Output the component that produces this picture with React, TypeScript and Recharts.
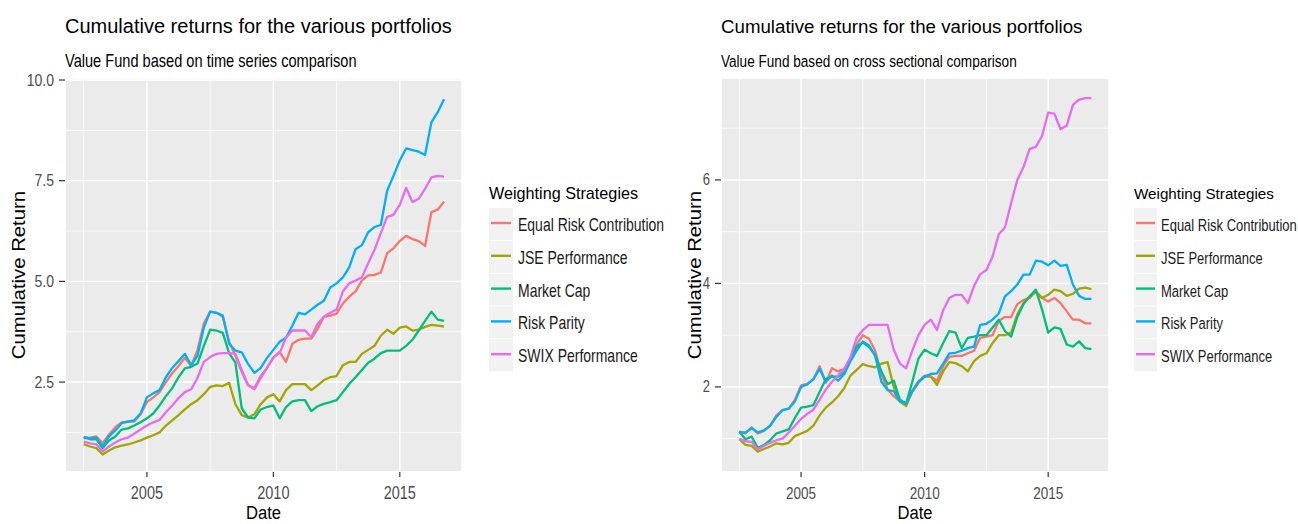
import React from 'react';
import { LineChart, Line, XAxis, YAxis, CartesianGrid, Legend } from 'recharts';

// quarterly observation dates (decimal years)
const dates = [
  2002.5, 2002.75,
  2003, 2003.25, 2003.5, 2003.75,
  2004, 2004.25, 2004.5, 2004.75,
  2005, 2005.25, 2005.5, 2005.75,
  2006, 2006.25, 2006.5, 2006.75,
  2007, 2007.25, 2007.5, 2007.75,
  2008, 2008.25, 2008.5, 2008.75,
  2009, 2009.25, 2009.5, 2009.75,
  2010, 2010.25, 2010.5, 2010.75,
  2011, 2011.25, 2011.5, 2011.75,
  2012, 2012.25, 2012.5, 2012.75,
  2013, 2013.25, 2013.5, 2013.75,
  2014, 2014.25, 2014.5, 2014.75,
  2015, 2015.25, 2015.5, 2015.75,
  2016, 2016.25, 2016.5, 2016.75,
];

// time series comparison
const tsErc = [
  1.10, 1.12,
  1.15, 0.98, 1.20, 1.38,
  1.50, 1.52, 1.52, 1.70,
  2.00, 2.12, 2.25, 2.50,
  2.72, 2.90, 3.10, 2.90,
  3.30, 3.95, 4.25, 4.22,
  4.12, 3.50, 3.15, 2.75,
  2.42, 2.35, 2.65, 2.85,
  3.10, 3.25, 3.00, 3.45,
  3.55, 3.58, 3.58, 3.82,
  4.12, 4.15, 4.20, 4.45,
  4.62, 4.75, 5.02, 5.15,
  5.16, 5.22, 5.70, 5.82,
  6.00, 6.13, 6.05, 6.00,
  5.88, 6.72, 6.78, 6.98,
];
const tsJse = [
  0.96, 0.90,
  0.86, 0.70, 0.80, 0.88,
  0.92, 0.95, 1.00, 1.05,
  1.12, 1.18, 1.25, 1.42,
  1.55, 1.68, 1.82, 1.95,
  2.05, 2.20, 2.38, 2.42,
  2.40, 2.48, 1.95, 1.68,
  1.62, 1.70, 1.95, 2.12,
  2.20, 2.02, 2.30, 2.45,
  2.45, 2.45, 2.30, 2.42,
  2.55, 2.62, 2.65, 2.92,
  3.00, 3.00, 3.20, 3.30,
  3.40, 3.65, 3.80, 3.70,
  3.85, 3.88, 3.78, 3.80,
  3.87, 3.92, 3.90, 3.88,
];
const tsMc = [
  1.13, 1.08,
  1.08, 0.86, 1.05, 1.15,
  1.32, 1.35, 1.42, 1.50,
  1.60, 1.72, 1.92, 2.15,
  2.35, 2.62, 2.84, 2.88,
  2.96, 3.40, 3.80, 3.78,
  3.72, 3.22, 2.98, 1.85,
  1.62, 1.60, 1.82, 1.88,
  1.92, 1.60, 1.88, 2.02,
  2.05, 2.05, 1.78, 1.90,
  1.96, 2.00, 2.05, 2.25,
  2.45, 2.62, 2.80, 2.98,
  3.08, 3.22, 3.28, 3.28,
  3.28, 3.40, 3.55, 3.78,
  4.02, 4.25, 4.05, 4.02,
];
const tsRp = [
  1.14, 1.10,
  1.12, 0.90, 1.15, 1.30,
  1.48, 1.52, 1.55, 1.72,
  2.12, 2.22, 2.30, 2.62,
  2.85, 3.02, 3.20, 2.92,
  3.15, 3.85, 4.25, 4.22,
  4.15, 3.46, 3.28, 3.24,
  2.95, 2.73, 2.85, 3.10,
  3.30, 3.50, 3.60, 3.90,
  4.22, 4.18, 4.30, 4.42,
  4.52, 4.85, 4.95, 5.10,
  5.35, 5.80, 5.90, 6.22,
  6.35, 6.40, 7.25, 7.62,
  8.00, 8.30, 8.26, 8.22,
  8.14, 8.95, 9.20, 9.52,
];
const tsSwix = [
  1.02, 0.98,
  0.95, 0.78, 0.90, 1.00,
  1.08, 1.12, 1.22, 1.32,
  1.42, 1.50, 1.56, 1.75,
  1.92, 2.10, 2.25, 2.32,
  2.60, 3.00, 3.12, 3.20,
  3.22, 3.22, 3.20, 2.80,
  2.42, 2.32, 2.60, 2.85,
  3.12, 3.22, 3.60, 3.78,
  3.78, 3.78, 3.62, 3.95,
  4.12, 4.22, 4.30, 4.75,
  4.95, 5.02, 5.10, 5.45,
  5.78, 6.20, 6.60, 6.65,
  6.90, 7.32, 6.97, 7.05,
  7.30, 7.58, 7.62, 7.60,
];

// cross sectional comparison
const csErc = [
  1.14, 1.10,
  1.22, 1.10, 1.15, 1.25,
  1.45, 1.55, 1.58, 1.75,
  2.03, 2.06, 2.15, 2.40,
  2.08, 2.36, 2.30, 2.35,
  2.55, 2.82, 3.00, 2.93,
  2.70, 2.25, 1.95, 1.82,
  1.72, 1.65, 1.90, 2.08,
  2.20, 2.20, 2.12, 2.40,
  2.58, 2.60, 2.60, 2.65,
  2.70, 2.95, 2.97, 3.00,
  3.28, 3.35, 3.35, 3.60,
  3.68, 3.72, 3.85, 3.72,
  3.65, 3.72, 3.62, 3.46,
  3.30, 3.30, 3.23, 3.23,
];
const csJse = [
  0.99, 0.88,
  0.86, 0.75, 0.80, 0.85,
  0.91, 0.89, 0.92, 1.05,
  1.10, 1.15, 1.25, 1.45,
  1.60, 1.70, 1.82, 1.98,
  2.22, 2.33, 2.44, 2.40,
  2.38, 2.45, 2.48, 2.00,
  1.72, 1.63, 1.92, 2.10,
  2.22, 2.20, 2.04, 2.30,
  2.48, 2.46, 2.40, 2.30,
  2.50, 2.60, 2.65, 2.85,
  3.00, 3.00, 3.05, 3.40,
  3.62, 3.75, 3.84, 3.72,
  3.78, 3.88, 3.85, 3.76,
  3.80, 3.90, 3.92, 3.89,
];
const csMc = [
  1.14, 0.99,
  1.04, 0.82, 0.88, 0.97,
  1.10, 1.14, 1.18, 1.40,
  1.60, 1.62, 1.65, 1.90,
  2.15, 2.20, 2.20, 2.28,
  2.55, 2.78, 2.86, 2.77,
  2.62, 2.30, 2.05, 2.12,
  1.75, 1.68, 2.10, 2.55,
  2.72, 2.65, 2.60, 2.85,
  3.08, 3.05, 2.75, 2.95,
  2.97, 3.00, 3.00, 3.15,
  3.30, 3.08, 2.97, 3.35,
  3.60, 3.75, 3.88, 3.50,
  3.05, 3.15, 3.12, 2.82,
  2.78, 2.88, 2.75, 2.73,
];
const csRp = [
  1.12, 1.12,
  1.20, 1.12, 1.16, 1.25,
  1.42, 1.55, 1.58, 1.72,
  2.00, 2.05, 2.15, 2.35,
  2.10, 2.22, 2.12, 2.25,
  2.50, 2.70, 2.88, 2.80,
  2.60, 2.10, 1.94, 1.92,
  1.72, 1.68, 1.92, 2.10,
  2.20, 2.25, 2.26, 2.45,
  2.65, 2.66, 2.70, 2.75,
  2.78, 3.20, 3.22, 3.30,
  3.42, 3.75, 3.85, 3.98,
  4.17, 4.17, 4.44, 4.42,
  4.35, 4.44, 4.34, 4.36,
  3.98, 3.76, 3.70, 3.70,
];
const csSwix = [
  1.00, 0.95,
  0.94, 0.79, 0.86, 0.92,
  0.97, 1.00, 1.12, 1.25,
  1.38, 1.48, 1.56, 1.75,
  1.95, 2.10, 2.22, 2.35,
  2.58, 2.95, 3.10, 3.20,
  3.20, 3.20, 3.20, 2.72,
  2.45, 2.36, 2.70, 3.00,
  3.20, 3.30, 3.10, 3.48,
  3.72, 3.78, 3.78, 3.62,
  3.95, 4.18, 4.26, 4.52,
  4.95, 5.08, 5.55, 6.00,
  6.25, 6.60, 6.64, 6.85,
  7.30, 7.28, 6.98, 7.05,
  7.45, 7.55, 7.58, 7.58,
];

const xTicks = [2005, 2010, 2015];
const xMinorTicks = [2002.5, 2007.5, 2012.5];
const tsTicks = [2.5, 5, 7.5, 10];
const tsMinorTicks = [1.25, 3.75, 6.25, 8.75];
const csTicks = [2, 4, 6];
const csMinorTicks = [1, 3, 5, 7];

const series = [
  { key: 'erc', name: 'Equal Risk Contribution', color: '#F8766D' },
  { key: 'jse', name: 'JSE Performance', color: '#A3A500' },
  { key: 'mc', name: 'Market Cap', color: '#00BF7D' },
  { key: 'rp', name: 'Risk Parity', color: '#00B0F6' },
  { key: 'swix', name: 'SWIX Performance', color: '#E76BF3' },
];

const tsData = dates.map((d, i) => ({
  date: d, erc: tsErc[i], jse: tsJse[i], mc: tsMc[i], rp: tsRp[i], swix: tsSwix[i],
}));
const csData = dates.map((d, i) => ({
  date: d, erc: csErc[i], jse: csJse[i], mc: csMc[i], rp: csRp[i], swix: csSwix[i],
}));

const FONT = 'Arial, "Liberation Sans", sans-serif';
const X_DOMAIN: [number, number] = [2001.76, 2017.46];

const makeXTick = (fs: number) => ({ x, y, payload }: any) => (
  <text
    transform={`translate(${x},${y + 14}) scale(1,1.28)`}
    textAnchor="middle"
    fill="#4D4D4D"
    fontSize={fs}
    fontFamily={FONT}
  >
    {payload.value}
  </text>
);

const makeYTick = (fmt: (v: number) => string, fs: number) => ({ x, y, payload }: any) => (
  <text
    transform={`translate(${x},${y + 5.5}) scale(1,1.2)`}
    textAnchor="end"
    fill="#4D4D4D"
    fontSize={fs}
    fontFamily={FONT}
  >
    {fmt(payload.value)}
  </text>
);

const LegendBox = ({ textX, fs, titleFs, boxW }: { textX: number; fs: number; titleFs: number; boxW: number }) => (
  <svg width={210} height={210} style={{ overflow: 'visible' }}>
    <text x={0} y={29} fontSize={titleFs} fontFamily={FONT} fill="#000">
      Weighting Strategies
    </text>
    {series.map((s, i) => {
      const top = 38 + i * 32.8;
      return (
        <g key={s.key}>
          <rect x={0} y={top} width={boxW} height={32} fill="#F2F2F2" />
          <line x1={2} x2={boxW - 2} y1={top + 15} y2={top + 15} stroke={s.color} strokeWidth={2.4} />
          <text
            transform={`translate(${textX},${top + 23}) scale(1,1.3)`}
            fontSize={fs}
            fontFamily={FONT}
            fill="#1A1A1A"
          >
            {s.name}
          </text>
        </g>
      );
    })}
  </svg>
);

interface PanelProps {
  data: any[];
  left: number;
  plotLeft: number;
  plotRight: number;
  yDomain: [number, number];
  yTicks: number[];
  yMinor: number[];
  yFmt: (v: number) => string;
  legendLeft: number;
  legendTextX: number;
  fs: number;
  legendTitleFs: number;
  boxW: number;
}

function Panel(p: PanelProps) {
  const W = 649;
  const H = 524;
  const yAxisW = 60;
  const xAxisH = 30;
  const margin = {
    top: 78,
    left: p.plotLeft - p.left - yAxisW,
    right: p.left + W - p.plotRight,
    bottom: H - 472 - xAxisH,
  };
  const YTick = makeYTick(p.yFmt, p.fs);
  const XTick = makeXTick(p.fs + 0.5);
  return (
    <div style={{ position: 'absolute', left: p.left, top: 0 }}>
      <LineChart width={W} height={H} data={p.data} margin={margin}>
        <XAxis xAxisId="m" dataKey="date" type="number" domain={X_DOMAIN} ticks={xMinorTicks} hide />
        <YAxis yAxisId="m" type="number" domain={p.yDomain} ticks={p.yMinor} allowDataOverflow hide />
        <CartesianGrid xAxisId="m" yAxisId="m" stroke="#FFFFFF" strokeWidth={0.7} fill="#EBEBEB" />
        <CartesianGrid stroke="#FFFFFF" strokeWidth={1.4} />
        <XAxis
          dataKey="date"
          type="number"
          domain={X_DOMAIN}
          ticks={xTicks}
          interval={0}
          height={xAxisH}
          axisLine={false}
          tickLine={{ stroke: '#333333', strokeWidth: 1.2 }}
          tickSize={5}
          tickMargin={8}
          tick={<XTick />}
          allowDataOverflow
        />
        <YAxis
          type="number"
          domain={p.yDomain}
          ticks={p.yTicks}
          interval={0}
          width={yAxisW}
          axisLine={false}
          tickLine={{ stroke: '#333333', strokeWidth: 1.2 }}
          tickSize={6}
          tickMargin={5}
          tick={<YTick />}
          allowDataOverflow
        />
        <Legend
          layout="vertical"
          align="center"
          verticalAlign="middle"
          content={() => (
            <LegendBox textX={p.legendTextX} fs={p.fs} titleFs={p.legendTitleFs} boxW={p.boxW} />
          )}
          wrapperStyle={{ left: p.legendLeft - p.left, top: 170, width: 210, height: 210 }}
        />
        {series.map((s) => (
          <Line
            key={s.key}
            type="linear"
            dataKey={s.key}
            name={s.name}
            stroke={s.color}
            strokeWidth={2.3}
            dot={false}
            activeDot={false}
            strokeLinejoin="round"
            isAnimationActive={false}
          />
        ))}
      </LineChart>
    </div>
  );
}

export default function App() {
  return (
    <div
      style={{
        position: 'absolute',
        left: 0,
        top: 0,
        width: 1298,
        height: 524,
        background: '#FFFFFF',
        fontFamily: FONT,
        overflow: 'hidden',
      }}
    >
      <Panel
        data={tsData}
        left={0}
        plotLeft={65}
        plotRight={462}
        yDomain={[0.267, 10.05]}
        yTicks={tsTicks}
        yMinor={tsMinorTicks}
        yFmt={(v) => v.toFixed(1)}
        legendLeft={489}
        legendTextX={29}
        fs={14}
        legendTitleFs={16.2}
        boxW={24}
      />
      <Panel
        data={csData}
        left={649}
        plotLeft={721}
        plotRight={1109}
        yDomain={[0.356, 7.97]}
        yTicks={csTicks}
        yMinor={csMinorTicks}
        yFmt={(v) => String(v)}
        legendLeft={1134}
        legendTextX={27}
        fs={13}
        legendTitleFs={15.2}
        boxW={23}
      />
      <svg
        width={1298}
        height={524}
        style={{ position: 'absolute', left: 0, top: 0, pointerEvents: 'none' }}
        fontFamily={FONT}
      >
        <text x={65} y={33} fontSize={20} fill="#000">Cumulative returns for the various portfolios</text>
        <text transform="translate(65,67) scale(1,1.2)" fontSize={14.6} fill="#000">
          Value Fund based on time series comparison
        </text>
        <text transform="translate(25,275) rotate(-90) scale(1.13,1)" textAnchor="middle" fontSize={18} fill="#000">
          Cumulative Return
        </text>
        <text transform="translate(263.5,519) scale(1,1.12)" textAnchor="middle" fontSize={16.6} fill="#000">
          Date
        </text>

        <text x={721} y={33} fontSize={18.7} fill="#000">Cumulative returns for the various portfolios</text>
        <text transform="translate(721,67) scale(1,1.25)" fontSize={13.6} fill="#000">
          Value Fund based on cross sectional comparison
        </text>
        <text transform="translate(701,275) rotate(-90) scale(1.13,1)" textAnchor="middle" fontSize={18} fill="#000">
          Cumulative Return
        </text>
        <text transform="translate(915,519) scale(1,1.12)" textAnchor="middle" fontSize={16.6} fill="#000">
          Date
        </text>
      </svg>
    </div>
  );
}
